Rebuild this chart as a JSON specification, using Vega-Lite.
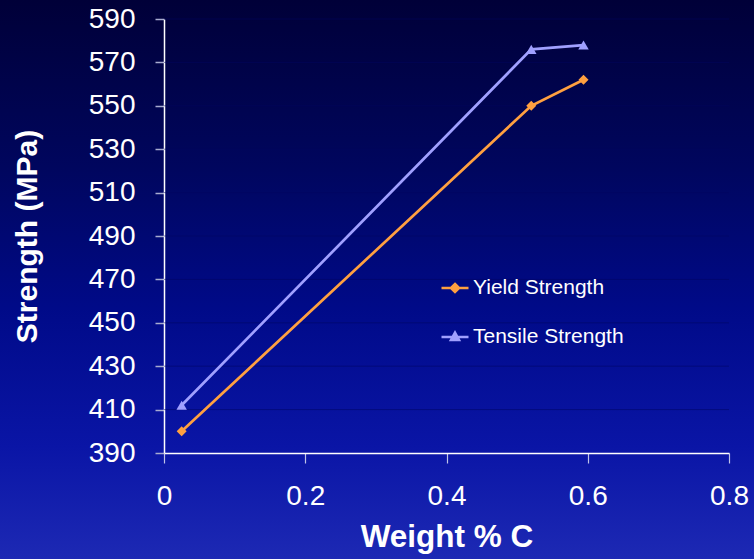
{
  "$schema": "https://vega.github.io/schema/vega-lite/v6.json",
  "width": 754,
  "height": 559,
  "autosize": {"type": "none"},
  "padding": 0,
  "background": "#000a80",
  "config": {
    "view": {
      "stroke": null,
      "fill": {
        "gradient": "linear",
        "x1": 0, "y1": 0, "x2": 0, "y2": 1,
        "stops": [
          {"offset": 0, "color": "#000038"},
          {"offset": 0.3, "color": "#00065e"},
          {"offset": 0.55, "color": "#000a88"},
          {"offset": 0.8, "color": "#0a15a6"},
          {"offset": 1, "color": "#1d29b4"}
        ]
      }
    },
    "font": "Liberation Sans"
  },
  "datasets": {
    "strength": [
      {"carbon": 0.025, "strength": 400, "series": "Yield Strength"},
      {"carbon": 0.52, "strength": 550, "series": "Yield Strength"},
      {"carbon": 0.594, "strength": 562, "series": "Yield Strength"},
      {"carbon": 0.025, "strength": 412, "series": "Tensile Strength"},
      {"carbon": 0.52, "strength": 576, "series": "Tensile Strength"},
      {"carbon": 0.594, "strength": 578, "series": "Tensile Strength"}
    ],
    "grid": [
      {"g": 410}, {"g": 430}, {"g": 450}, {"g": 470}, {"g": 490},
      {"g": 510}, {"g": 530}, {"g": 550}, {"g": 570}, {"g": 590}
    ]
  },
  "layer": [
    {
      "data": {"name": "grid"},
      "mark": {"type": "rule", "color": "#000560", "strokeWidth": 1, "opacity": 0.5},
      "encoding": {
        "y": {"field": "g", "type": "quantitative"},
        "x": {"datum": 0, "type": "quantitative"},
        "x2": {"datum": 0.8}
      }
    },
    {
      "data": {"name": "strength"},
      "mark": {"type": "line", "strokeWidth": 2.7},
      "encoding": {
        "x": {
          "field": "carbon", "type": "quantitative",
          "scale": {"domain": [0, 0.8], "range": [164, 729], "nice": false, "zero": false},
          "axis": {
            "title": "Weight % C",
            "values": [0, 0.2, 0.4, 0.6, 0.8],
            "format": "~g",
            "offset": -106,
            "grid": false,
            "labelFlush": false,
            "domainColor": "#ffffff",
            "domainWidth": 1.5,
            "tickColor": "#c0c4e8",
            "tickSize": 10,
            "tickWidth": 1.2,
            "labelColor": "#ffffff",
            "labelFontSize": 28,
            "labelPadding": 19,
            "labelFont": "Liberation Sans",
            "titleColor": "#ffffff",
            "titleFontSize": 31.5,
            "titleFontWeight": "bold",
            "titleFont": "Liberation Sans",
            "titlePadding": 11
          }
        },
        "y": {
          "field": "strength", "type": "quantitative",
          "scale": {"domain": [390, 590], "range": [453, 19], "zero": false, "nice": false},
          "axis": {
            "title": "Strength (MPa)",
            "values": [390, 410, 430, 450, 470, 490, 510, 530, 550, 570, 590],
            "offset": -164,
            "grid": false,
            "labelFlush": false,
            "domainColor": "#ffffff",
            "domainWidth": 1.5,
            "tickColor": "#a8acd0",
            "tickSize": 9,
            "tickWidth": 1.5,
            "labelColor": "#ffffff",
            "labelFontSize": 28,
            "labelPadding": 20,
            "labelFont": "Liberation Sans",
            "titleColor": "#ffffff",
            "titleFontSize": 30,
            "titleFontWeight": "bold",
            "titleFont": "Liberation Sans",
            "titlePadding": 46
          }
        },
        "color": {
          "field": "series", "type": "nominal",
          "scale": {"domain": ["Yield Strength", "Tensile Strength"], "range": ["#ffa040", "#a0a0ff"]},
          "legend": {
            "title": null,
            "orient": "none",
            "legendX": 440,
            "legendY": 273,
            "labelColor": "#ffffff",
            "labelFontSize": 21,
            "labelFont": "Liberation Sans",
            "labelOffset": 3,
            "rowPadding": 24,
            "symbolSize": 729,
            "symbolStrokeWidth": 2.5,
            "encode": {
              "symbols": {
                "update": {
                  "shape": {"signal": "datum.value === 'Yield Strength' ? 'M-1,0L1,0M0,-0.3L0.3,0L0,0.3L-0.3,0Z' : 'M-1,0L1,0M0,-0.32L0.3,0.22L-0.3,0.22Z'"},
                  "fill": {"signal": "datum.value === 'Yield Strength' ? '#ffa040' : '#a0a0ff'"},
                  "stroke": {"signal": "datum.value === 'Yield Strength' ? '#ffa040' : '#a0a0ff'"},
                  "strokeWidth": {"value": 2.5}
                }
              }
            }
          }
        }
      }
    },
    {
      "data": {"name": "strength"},
      "transform": [{"filter": "datum.series === 'Yield Strength'"}],
      "mark": {"type": "point", "filled": true, "opacity": 1, "shape": "diamond", "color": "#ffa040", "size": 100},
      "encoding": {
        "x": {"field": "carbon", "type": "quantitative"},
        "y": {"field": "strength", "type": "quantitative"}
      }
    },
    {
      "data": {"name": "strength"},
      "transform": [{"filter": "datum.series === 'Tensile Strength'"}],
      "mark": {"type": "point", "filled": true, "opacity": 1, "shape": "triangle-up", "color": "#a0a0ff", "size": 110},
      "encoding": {
        "x": {"field": "carbon", "type": "quantitative"},
        "y": {"field": "strength", "type": "quantitative"}
      }
    }
  ]
}
